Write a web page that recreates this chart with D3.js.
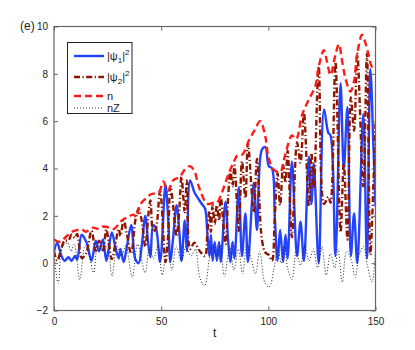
<!DOCTYPE html>
<html>
<head>
<meta charset="utf-8">
<script src="https://cdn.jsdelivr.net/npm/d3@7"></script>
<style>
body { margin: 0; background: #fff; }
svg { font-family: "Liberation Sans", Arial, sans-serif; }
</style>
</head>
<body>
<svg id="chart" width="415" height="350"></svg>
<script>
// knots (t, value)
const tPsi1 = [0, 1.5, 3.5, 5, 6.7, 8.2, 9.8, 10.8, 12.9, 14.5, 15.5, 17.5, 19.5, 21, 22.8, 24.4, 25.5, 27, 28.6, 30.2,
    31, 32.5, 34, 36, 38, 39.5, 41, 42.6, 44, 45, 46.3, 47.5, 49.5, 52, 53.2, 54.3, 55.5, 57.2, 58.5, 59.5,
    61, 62, 63.5, 65.5, 67.5, 69, 70.5, 71.5, 72.5, 73.2, 74, 75, 76, 77, 77.8, 80, 81.2, 82.3, 83.3, 84.2,
    86.2, 87.7, 89.3, 90.5, 93.2, 94.7, 97, 98.6, 100.2, 101.7, 103, 104.3, 105.5, 106.9, 108, 109, 111, 113.4, 115, 116.6,
    118.9, 120.1, 121.2, 123.5, 126, 128, 129, 131.3, 133.7, 135.2, 136.9, 138.5, 140, 141.5, 144.3, 146, 147.6, 149, 150];
const psi1 = [0.5, 0.85, 0.3, 0.1, 0.25, 0.1, 0.3, 0.15, 1.2, 1.0, 0.8, 0.1, 0.95, 0.5, 1.0, 0.1, 0.6, 1.3, 0.7, 0.2,
    0.6, 0.05, 0.7, 1.6, 0.15, 0.0, 0.8, 2.0, 0.8, 0.25, 1.6, 1.5, 0.05, 3.3, 2.0, 0.05, 1.0, 2.45, 1.3, 0.1,
    1.8, 0.5, 3.5, 3.0, 2.7, 2.5, 2.3, 1.3, 0.3, 1.2, 0.1, 0.9, 0.1, 0.9, 0.05, 2.6, 1.0, 0.05, 0.9, 0.2,
    3.2, 0.3, 2.1, 0.05, 3.4, 1.4, 4.8, 4.9, 4.1, 4.0, 2.0, 0.1, 1.4, 0.05, 1.2, 0.2, 4.3, 0.3, 1.75, 0.1,
    4.5, 2.5, 4.2, 0.0, 6.5, 5.5, 5.4, 0.3, 7.6, 4.0, 6.6, 0.3, 2.1, 0.0, 6.3, 0.2, 8.2, 5.0, 2.4];
const psi2 = [0.5, 0.1, 0.65, 0.95, 0.95, 1.2, 1.07, 1.23, 0.22, 0.35, 0.56, 1.37, 0.52, 0.95, 0.55, 1.43, 0.9, 0.17, 0.8, 1.45,
    1.15, 1.8, 1.23, 0.4, 1.83, 2.3, 1.75, 0.7, 2.02, 2.65, 1.33, 1.46, 3.05, 0.05, 1.08, 3.25, 2.5, 1.13, 2.34, 3.65,
    2.15, 3.5, 0.6, 0.87, 0.57, 0.4, 0.3, 1.23, 2.21, 1.33, 2.45, 1.65, 2.45, 1.8, 2.8, 0.8, 2.7, 3.9, 3.25, 4.13,
    1.36, 4.3, 2.75, 5.05, 2.15, 4.4, 1.0, 0.45, 0.35, 0.1, 1.93, 3.8, 2.45, 4.15, 3.4, 4.75, 1.1, 5.1, 4.25, 6.35,
    2.4, 4.65, 3.15, 8.3, 2.5, 2.8, 2.55, 8.5, 1.3, 4.2, 1.0, 7.0, 5.6, 8.85, 3.25, 8.85, 0.35, 3.3, 5.9];

const tN = [0, 2.8, 6, 9, 13, 15, 18, 21, 23, 26, 28, 31.5, 34.5, 37, 38.5, 40, 43, 45, 47, 49, 51, 53, 55.6, 58.7,
    61, 63.4, 65.7, 67, 68.5, 70.5, 72, 74.4, 76, 78, 79.8, 82, 84, 85.5, 88, 91, 93.5, 96.2, 98.6, 100, 102.5,
    105.6, 107.2, 109.5, 111, 113, 115.7, 118.8, 122, 123.5, 125.9, 127.4, 129, 131.3, 132.9, 134.5, 136, 138.3,
    140, 141.4, 143.7, 144.8, 146.8, 148.4, 150];
const nTot = [1.0, 0.9, 1.15, 1.35, 1.42, 1.33, 1.5, 1.45, 1.55, 1.5, 1.45, 1.8, 1.95, 2.05, 1.95, 2.45, 2.75, 2.9, 2.95, 3.0, 3.45, 3.05, 3.5, 3.65,
    3.95, 4.1, 3.85, 3.4, 3.0, 2.6, 2.5, 2.55, 2.55, 2.9, 3.35, 3.9, 4.3, 4.55, 4.6, 5.2, 5.6, 6.0, 5.35, 4.5, 3.95,
    3.85, 4.35, 5.1, 5.4, 5.25, 6.25, 6.9, 7.5, 8.3, 9.0, 8.5, 7.95, 8.8, 9.25, 8.5, 7.8, 7.25,
    7.7, 8.8, 9.65, 9.45, 8.8, 8.3, 8.3];

const tNz = [0, 2, 4, 6.5, 8, 9.5, 12, 14.5, 16.5, 18.5, 20.5, 23, 25, 27, 29.5, 31.5, 33.5, 36.5, 39, 42.5, 44.5, 46.5, 48.5, 50.5,
    53, 55, 57, 59.5, 61.5, 64, 66, 68, 70.3, 72.5, 74, 76, 77.5, 79.5, 82, 84, 86, 88, 90, 92, 94, 96, 98.5, 100.5,
    102.5, 104.5, 106, 107.5, 109, 111, 113, 115, 117, 119, 121, 123, 125, 127, 129, 131, 132.5, 134.5, 136.5, 138.5,
    140.5, 142.5, 144.5, 146, 148.4, 150];
const nZ = [0.3, -0.85, 0.7, 0.85, 0.5, 0.8, -0.7, 0.75, 0.3, -0.4, 0.8, 0.5, 0.8, -0.55, 0.7, 0.3, 0.75, -0.6, 0.8, -0.4, 0.6, 0.2, 0.75, -0.5,
    0.8, -0.3, 0.7, 0.1, 0.7, 0.3, 0.6, -0.6, -0.95, 0.2, 0.8, 0.3, 0.75, -0.55, 0.7, -0.3, 0.6, -0.45, 0.8, 0.2, -0.45, 0.5, -0.85, -1.0,
    -0.3, 0.6, 0.0, 0.7, -0.2, -0.7, 0.5, -0.1, 0.75, 0.1, 0.6, -0.2, 0.7, -0.5, 0.4, -0.2, 0.6, -0.8, 0.5, 0.2,
    -0.6, 0.4, 0.7, 0.0, -0.8, 0.6];

const xTicks = [0, 50, 100, 150];
const yTicks = [-2, 0, 2, 4, 6, 8, 10];

const plotLeft = 54, plotRight = 375.5, plotTop = 26.5, plotBottom = 310.5;

const svg = d3.select('#chart');

const x = d3.scaleLinear().domain([0, 150]).range([plotLeft, plotRight]);
const y = d3.scaleLinear().domain([-2, 10]).range([plotBottom, plotTop]);

svg.append('clipPath').attr('id', 'clip')
    .append('rect')
    .attr('x', plotLeft).attr('y', plotTop)
    .attr('width', plotRight - plotLeft).attr('height', plotBottom - plotTop);

const line = d3.line()
    .x(d => x(d[0]))
    .y(d => y(d[1]))
    .curve(d3.curveCatmullRom.alpha(0.5));

const plot = svg.append('g').attr('clip-path', 'url(#clip)');

const series = [
    { t: tPsi1, v: psi1, color: '#2443ff', width: 2.4, dash: null },
    { t: tPsi1, v: psi2, color: '#8e1500', width: 2.4, dash: '6,2.5,1.2,2.5' },
    { t: tN, v: nTot, color: '#ff1a1a', width: 2.4, dash: '7,4' },
    { t: tNz, v: nZ, color: '#222', width: 1, dash: '1,2' }
];

series.forEach(s => {
    plot.append('path')
        .datum(s.t.map((t, i) => [t, s.v[i]]))
        .attr('d', line)
        .attr('fill', 'none')
        .attr('stroke', s.color)
        .attr('stroke-width', s.width)
        .attr('stroke-dasharray', s.dash);
});

// axes box with ticks on every side
const axisColor = '#666';
svg.append('rect')
    .attr('x', plotLeft).attr('y', plotTop)
    .attr('width', plotRight - plotLeft).attr('height', plotBottom - plotTop)
    .attr('fill', 'none')
    .attr('stroke', axisColor)
    .attr('stroke-width', 1.2);

const xAxis = d3.axisBottom(x).tickValues(xTicks).tickSizeInner(-4).tickSizeOuter(0).tickPadding(7);
const gx = svg.append('g').attr('transform', `translate(0,${plotBottom})`).call(xAxis);
const xTop = d3.axisTop(x).tickValues(xTicks).tickSizeInner(-4).tickSizeOuter(0).tickFormat('');
const gxt = svg.append('g').attr('transform', `translate(0,${plotTop})`).call(xTop);

const yAxis = d3.axisLeft(y).tickValues(yTicks).tickSizeInner(-4).tickSizeOuter(0).tickPadding(6)
    .tickFormat(d => d < 0 ? '\u2212' + Math.abs(d) : d);
const gy = svg.append('g').attr('transform', `translate(${plotLeft},0)`).call(yAxis);
const yRight = d3.axisRight(y).tickValues(yTicks).tickSizeInner(-4).tickSizeOuter(0).tickFormat('');
const gyr = svg.append('g').attr('transform', `translate(${plotRight},0)`).call(yRight);

[gx, gxt, gy, gyr].forEach(g => {
    g.select('.domain').remove();
    g.selectAll('line').attr('stroke', axisColor);
    g.selectAll('text').attr('fill', '#222').style('font-size', '10px')
        .style('font-family', '"Liberation Sans", Arial, sans-serif');
});

svg.append('text')
    .attr('x', (plotLeft + plotRight) / 2).attr('y', 337)
    .attr('text-anchor', 'middle')
    .attr('fill', '#222')
    .style('font-size', '12px')
    .text('t');

svg.append('text')
    .attr('x', 20).attr('y', 30)
    .attr('fill', '#222')
    .style('font-size', '12px')
    .text('(e)');

// legend
const legend = svg.append('g');
legend.append('rect')
    .attr('x', 67.5).attr('y', 42.5)
    .attr('width', 64.5).attr('height', 71)
    .attr('fill', '#fff')
    .attr('stroke', '#222')
    .attr('stroke-width', 1);

const legendRows = [
    { y: 56, s: series[0], label: ['|\u03c8', '1', '|', '2'] },
    { y: 77, s: series[1], label: ['|\u03c8', '2', '|', '2'] },
    { y: 96, s: series[2], label: ['n'] },
    { y: 108, s: series[3], label: ['nZ'] }
];

legendRows.forEach(r => {
    legend.append('line')
        .attr('x1', 74).attr('x2', 104)
        .attr('y1', r.y).attr('y2', r.y)
        .attr('stroke', r.s.color)
        .attr('stroke-width', r.s.width)
        .attr('stroke-dasharray', r.s.dash);
    const txt = legend.append('text')
        .attr('x', 107).attr('y', r.y + 4)
        .attr('fill', '#222')
        .style('font-size', '11px');
    if (r.label.length === 1) {
        txt.text(r.label[0]);
    } else {
        txt.append('tspan').text(r.label[0]);
        txt.append('tspan').attr('dy', 3).style('font-size', '8px').text(r.label[1]);
        txt.append('tspan').attr('dy', -3).text(r.label[2]);
        txt.append('tspan').attr('dy', -5).style('font-size', '8px').text(r.label[3]);
    }
});
</script>
</body>
</html>
